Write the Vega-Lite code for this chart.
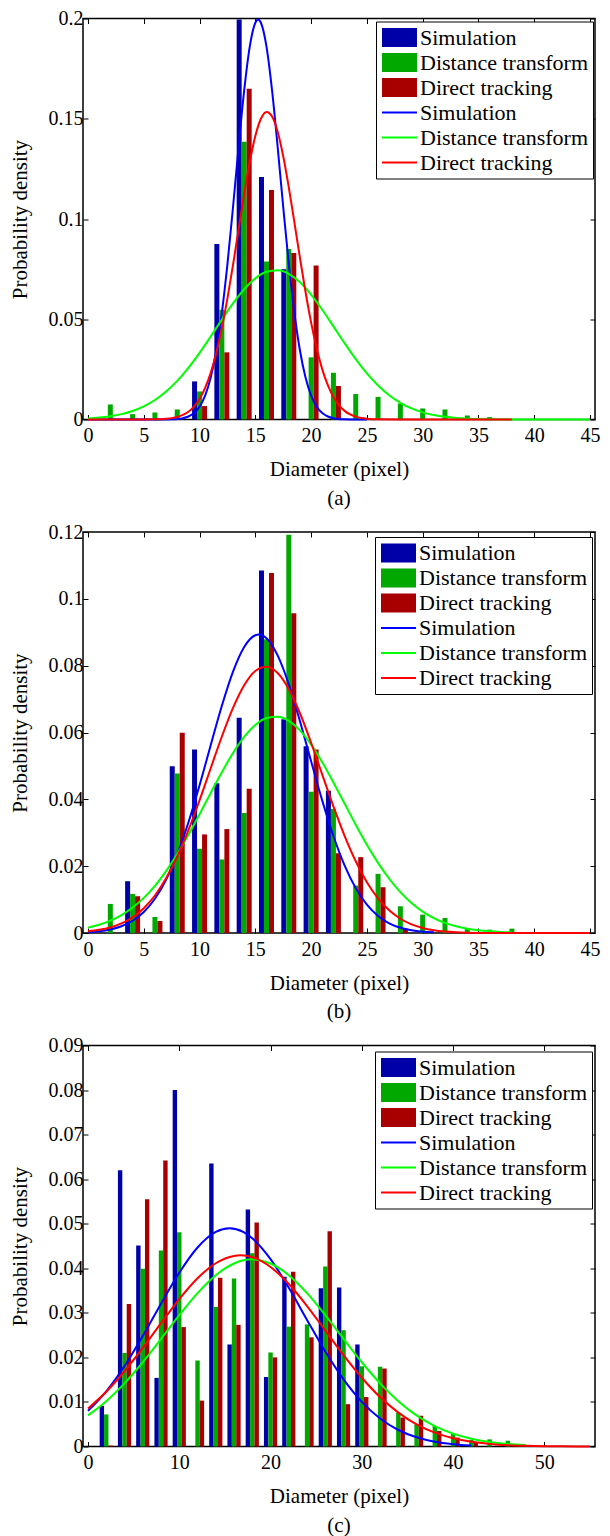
{
"$schema": "https://vega.github.io/schema/vega-lite/v6.json",
"background": "white",
"padding": {"left": 8, "top": 7.5, "right": 0, "bottom": 0},
"spacing": 11.5,
"config": {
 "font": "Liberation Serif",
 "view": {"stroke": "black", "strokeWidth": 1.5},
 "style": {"guide-label": {"font": "Liberation Serif", "fill": "black"}, "guide-title": {"font": "Liberation Serif", "fontWeight": "normal", "fill": "black"}},
 "axis": {"labelFont": "Liberation Serif", "labelFontSize": 20, "labelColor": "black", "titleFont": "Liberation Serif", "titleFontSize": 21, "titleFontWeight": "normal", "titleColor": "black", "tickColor": "black", "tickWidth": 1, "tickSize": -5, "domain": false, "grid": false, "labelFlush": false, "labelOverlap": false},
 "legend": {"orient": "none", "title": null, "symbolSize": 400, "symbolOpacity": 1, "symbolStrokeWidth": 0, "labelOffset": 17, "rowPadding": 3, "padding": 5, "strokeColor": "black", "fillColor": "white", "labelFont": "Liberation Serif", "labelFontSize": 22, "labelColor": "black", "labelLimit": 400},
 "title": {"font": "Liberation Serif", "fontSize": 21, "fontWeight": "normal", "color": "black"}
},
"datasets": {
 "barsA": [
  {"d":10,"p":0.019,"s":"Simulation"},{"d":12,"p":0.0875,"s":"Simulation"},{"d":14,"p":0.1995,"s":"Simulation"},{"d":16,"p":0.121,"s":"Simulation"},{"d":18,"p":0.075,"s":"Simulation"},
  {"d":2,"p":0.0075,"s":"Distance transform"},{"d":4,"p":0.0027,"s":"Distance transform"},{"d":6,"p":0.0035,"s":"Distance transform"},{"d":8,"p":0.005,"s":"Distance transform"},{"d":10,"p":0.014,"s":"Distance transform"},{"d":12,"p":0.0547,"s":"Distance transform"},{"d":14,"p":0.1385,"s":"Distance transform"},{"d":16,"p":0.0788,"s":"Distance transform"},{"d":18,"p":0.085,"s":"Distance transform"},{"d":20,"p":0.031,"s":"Distance transform"},{"d":22,"p":0.0233,"s":"Distance transform"},{"d":24,"p":0.0127,"s":"Distance transform"},{"d":26,"p":0.0113,"s":"Distance transform"},{"d":28,"p":0.008,"s":"Distance transform"},{"d":30,"p":0.0055,"s":"Distance transform"},{"d":32,"p":0.005,"s":"Distance transform"},{"d":34,"p":0.002,"s":"Distance transform"},{"d":36,"p":0.0012,"s":"Distance transform"},
  {"d":10,"p":0.0067,"s":"Direct tracking"},{"d":12,"p":0.0335,"s":"Direct tracking"},{"d":14,"p":0.165,"s":"Direct tracking"},{"d":16,"p":0.1145,"s":"Direct tracking"},{"d":18,"p":0.083,"s":"Direct tracking"},{"d":20,"p":0.0768,"s":"Direct tracking"},{"d":22,"p":0.0167,"s":"Direct tracking"}
 ],
 "curvesA": [
  {"d":0,"p":0,"s":"Simulation "},{"d":6,"p":0.00001,"s":"Simulation "},{"d":7,"p":0.00004,"s":"Simulation "},{"d":7.5,"p":0.00011,"s":"Simulation "},{"d":8,"p":0.00028,"s":"Simulation "},{"d":8.5,"p":0.00067,"s":"Simulation "},{"d":9,"p":0.00151,"s":"Simulation "},{"d":9.5,"p":0.0032,"s":"Simulation "},{"d":10,"p":0.00636,"s":"Simulation "},{"d":10.5,"p":0.0119,"s":"Simulation "},{"d":11,"p":0.0209,"s":"Simulation "},{"d":11.5,"p":0.0344,"s":"Simulation "},{"d":12,"p":0.0533,"s":"Simulation "},{"d":12.5,"p":0.0775,"s":"Simulation "},{"d":13,"p":0.106,"s":"Simulation "},{"d":13.5,"p":0.136,"s":"Simulation "},{"d":14,"p":0.1641,"s":"Simulation "},{"d":14.5,"p":0.186,"s":"Simulation "},{"d":15,"p":0.1979,"s":"Simulation "},{"d":15.25,"p":0.1995,"s":"Simulation "},{"d":15.5,"p":0.1979,"s":"Simulation "},{"d":16,"p":0.186,"s":"Simulation "},{"d":16.5,"p":0.1641,"s":"Simulation "},{"d":17,"p":0.136,"s":"Simulation "},{"d":17.5,"p":0.106,"s":"Simulation "},{"d":18,"p":0.0775,"s":"Simulation "},{"d":18.5,"p":0.0533,"s":"Simulation "},{"d":19,"p":0.0344,"s":"Simulation "},{"d":19.5,"p":0.0209,"s":"Simulation "},{"d":20,"p":0.0119,"s":"Simulation "},{"d":20.5,"p":0.00636,"s":"Simulation "},{"d":21,"p":0.0032,"s":"Simulation "},{"d":21.5,"p":0.00151,"s":"Simulation "},{"d":22,"p":0.00067,"s":"Simulation "},{"d":22.5,"p":0.00028,"s":"Simulation "},{"d":23,"p":0.00011,"s":"Simulation "},{"d":23.5,"p":0.00004,"s":"Simulation "},{"d":25,"p":0,"s":"Simulation "},
  {"d":0,"p":0.00054,"s":"Distance transform "},{"d":1,"p":0.00095,"s":"Distance transform "},{"d":2,"p":0.00162,"s":"Distance transform "},{"d":3,"p":0.00268,"s":"Distance transform "},{"d":4,"p":0.00426,"s":"Distance transform "},{"d":5,"p":0.00655,"s":"Distance transform "},{"d":6,"p":0.00971,"s":"Distance transform "},{"d":7,"p":0.01392,"s":"Distance transform "},{"d":8,"p":0.01926,"s":"Distance transform "},{"d":9,"p":0.02574,"s":"Distance transform "},{"d":10,"p":0.03321,"s":"Distance transform "},{"d":11,"p":0.0414,"s":"Distance transform "},{"d":12,"p":0.04982,"s":"Distance transform "},{"d":13,"p":0.05789,"s":"Distance transform "},{"d":14,"p":0.06496,"s":"Distance transform "},{"d":15,"p":0.0704,"s":"Distance transform "},{"d":16,"p":0.07367,"s":"Distance transform "},{"d":17,"p":0.07445,"s":"Distance transform "},{"d":18,"p":0.07265,"s":"Distance transform "},{"d":19,"p":0.06846,"s":"Distance transform "},{"d":20,"p":0.0623,"s":"Distance transform "},{"d":21,"p":0.05474,"s":"Distance transform "},{"d":22,"p":0.04645,"s":"Distance transform "},{"d":23,"p":0.03807,"s":"Distance transform "},{"d":24,"p":0.03012,"s":"Distance transform "},{"d":25,"p":0.02301,"s":"Distance transform "},{"d":26,"p":0.01699,"s":"Distance transform "},{"d":27,"p":0.0121,"s":"Distance transform "},{"d":28,"p":0.00833,"s":"Distance transform "},{"d":29,"p":0.00553,"s":"Distance transform "},{"d":30,"p":0.00355,"s":"Distance transform "},{"d":31,"p":0.0022,"s":"Distance transform "},{"d":32,"p":0.00132,"s":"Distance transform "},{"d":33,"p":0.00076,"s":"Distance transform "},{"d":34,"p":0.00042,"s":"Distance transform "},{"d":35,"p":0.00023,"s":"Distance transform "},{"d":36,"p":0.00012,"s":"Distance transform "},{"d":38,"p":0.00003,"s":"Distance transform "},{"d":45,"p":0,"s":"Distance transform "},
  {"d":0,"p":0,"s":"Direct tracking "},{"d":5,"p":0.00001,"s":"Direct tracking "},{"d":6,"p":0.000087,"s":"Direct tracking "},{"d":6.5,"p":0.00018,"s":"Direct tracking "},{"d":7,"p":0.00036,"s":"Direct tracking "},{"d":7.5,"p":0.00069,"s":"Direct tracking "},{"d":8,"p":0.00127,"s":"Direct tracking "},{"d":8.5,"p":0.00226,"s":"Direct tracking "},{"d":9,"p":0.00388,"s":"Direct tracking "},{"d":9.5,"p":0.00642,"s":"Direct tracking "},{"d":10,"p":0.01023,"s":"Direct tracking "},{"d":10.5,"p":0.01572,"s":"Direct tracking "},{"d":11,"p":0.02327,"s":"Direct tracking "},{"d":11.5,"p":0.03318,"s":"Direct tracking "},{"d":12,"p":0.04561,"s":"Direct tracking "},{"d":12.5,"p":0.06039,"s":"Direct tracking "},{"d":13,"p":0.07708,"s":"Direct tracking "},{"d":13.5,"p":0.09483,"s":"Direct tracking "},{"d":14,"p":0.1124,"s":"Direct tracking "},{"d":14.5,"p":0.1284,"s":"Direct tracking "},{"d":15,"p":0.1414,"s":"Direct tracking "},{"d":15.5,"p":0.15,"s":"Direct tracking "},{"d":16,"p":0.1534,"s":"Direct tracking "},{"d":16.5,"p":0.1511,"s":"Direct tracking "},{"d":17,"p":0.1435,"s":"Direct tracking "},{"d":17.5,"p":0.1313,"s":"Direct tracking "},{"d":18,"p":0.1158,"s":"Direct tracking "},{"d":18.5,"p":0.0984,"s":"Direct tracking "},{"d":19,"p":0.0806,"s":"Direct tracking "},{"d":19.5,"p":0.0636,"s":"Direct tracking "},{"d":20,"p":0.0484,"s":"Direct tracking "},{"d":20.5,"p":0.0355,"s":"Direct tracking "},{"d":21,"p":0.025,"s":"Direct tracking "},{"d":21.5,"p":0.0171,"s":"Direct tracking "},{"d":22,"p":0.0112,"s":"Direct tracking "},{"d":22.5,"p":0.00707,"s":"Direct tracking "},{"d":23,"p":0.00431,"s":"Direct tracking "},{"d":23.5,"p":0.00253,"s":"Direct tracking "},{"d":24,"p":0.00143,"s":"Direct tracking "},{"d":24.5,"p":0.00078,"s":"Direct tracking "},{"d":25,"p":0.00041,"s":"Direct tracking "},{"d":26,"p":0.0001,"s":"Direct tracking "},{"d":28,"p":0,"s":"Direct tracking "},{"d":38,"p":0,"s":"Direct tracking "}
 ],
 "barsB": [
  {"d":4,"p":0.0155,"s":"Simulation"},{"d":8,"p":0.0499,"s":"Simulation"},{"d":10,"p":0.0549,"s":"Simulation"},{"d":12,"p":0.0448,"s":"Simulation"},{"d":14,"p":0.0644,"s":"Simulation"},{"d":16,"p":0.1085,"s":"Simulation"},{"d":18,"p":0.064,"s":"Simulation"},{"d":20,"p":0.0559,"s":"Simulation"},{"d":22,"p":0.0426,"s":"Simulation"},
  {"d":2,"p":0.0087,"s":"Distance transform"},{"d":4,"p":0.0117,"s":"Distance transform"},{"d":6,"p":0.0048,"s":"Distance transform"},{"d":8,"p":0.0477,"s":"Distance transform"},{"d":10,"p":0.0252,"s":"Distance transform"},{"d":12,"p":0.022,"s":"Distance transform"},{"d":14,"p":0.0359,"s":"Distance transform"},{"d":16,"p":0.0879,"s":"Distance transform"},{"d":18,"p":0.1192,"s":"Distance transform"},{"d":20,"p":0.0423,"s":"Distance transform"},{"d":22,"p":0.0371,"s":"Distance transform"},{"d":24,"p":0.0142,"s":"Distance transform"},{"d":26,"p":0.0177,"s":"Distance transform"},{"d":28,"p":0.008,"s":"Distance transform"},{"d":30,"p":0.0055,"s":"Distance transform"},{"d":32,"p":0.0045,"s":"Distance transform"},{"d":34,"p":0.0015,"s":"Distance transform"},{"d":36,"p":0.001,"s":"Distance transform"},{"d":38,"p":0.0013,"s":"Distance transform"},
  {"d":4,"p":0.011,"s":"Direct tracking"},{"d":6,"p":0.0036,"s":"Direct tracking"},{"d":8,"p":0.0599,"s":"Direct tracking"},{"d":10,"p":0.0295,"s":"Direct tracking"},{"d":12,"p":0.0311,"s":"Direct tracking"},{"d":14,"p":0.0432,"s":"Direct tracking"},{"d":16,"p":0.1077,"s":"Direct tracking"},{"d":18,"p":0.0957,"s":"Direct tracking"},{"d":20,"p":0.0549,"s":"Direct tracking"},{"d":22,"p":0.0239,"s":"Direct tracking"},{"d":24,"p":0.0227,"s":"Direct tracking"},{"d":26,"p":0.0137,"s":"Direct tracking"},{"d":28,"p":0.0013,"s":"Direct tracking"}
 ],
 "curvesB": [
  {"d":0,"p":0.000255,"s":"Simulation "},{"d":1,"p":0.000535,"s":"Simulation "},{"d":2,"p":0.00107,"s":"Simulation "},{"d":3,"p":0.00203,"s":"Simulation "},{"d":4,"p":0.00366,"s":"Simulation "},{"d":5,"p":0.00628,"s":"Simulation "},{"d":6,"p":0.01025,"s":"Simulation "},{"d":7,"p":0.01593,"s":"Simulation "},{"d":8,"p":0.02353,"s":"Simulation "},{"d":9,"p":0.03308,"s":"Simulation "},{"d":10,"p":0.04421,"s":"Simulation "},{"d":11,"p":0.05621,"s":"Simulation "},{"d":12,"p":0.068,"s":"Simulation "},{"d":13,"p":0.07823,"s":"Simulation "},{"d":14,"p":0.0856,"s":"Simulation "},{"d":15,"p":0.0891,"s":"Simulation "},{"d":15.3,"p":0.0893,"s":"Simulation "},{"d":16,"p":0.08821,"s":"Simulation "},{"d":17,"p":0.08307,"s":"Simulation "},{"d":18,"p":0.07441,"s":"Simulation "},{"d":19,"p":0.06339,"s":"Simulation "},{"d":20,"p":0.05137,"s":"Simulation "},{"d":21,"p":0.03961,"s":"Simulation "},{"d":22,"p":0.02904,"s":"Simulation "},{"d":23,"p":0.02025,"s":"Simulation "},{"d":24,"p":0.01343,"s":"Simulation "},{"d":25,"p":0.00848,"s":"Simulation "},{"d":26,"p":0.00509,"s":"Simulation "},{"d":27,"p":0.00291,"s":"Simulation "},{"d":28,"p":0.00158,"s":"Simulation "},{"d":29,"p":0.00081,"s":"Simulation "},{"d":30,"p":0.0004,"s":"Simulation "},{"d":31,"p":0.00019,"s":"Simulation "},
  {"d":0,"p":0.00161,"s":"Distance transform "},{"d":1,"p":0.00247,"s":"Distance transform "},{"d":2,"p":0.00369,"s":"Distance transform "},{"d":3,"p":0.00537,"s":"Distance transform "},{"d":4,"p":0.00761,"s":"Distance transform "},{"d":5,"p":0.01051,"s":"Distance transform "},{"d":6,"p":0.01413,"s":"Distance transform "},{"d":7,"p":0.01852,"s":"Distance transform "},{"d":8,"p":0.02363,"s":"Distance transform "},{"d":9,"p":0.02937,"s":"Distance transform "},{"d":10,"p":0.03556,"s":"Distance transform "},{"d":11,"p":0.04192,"s":"Distance transform "},{"d":12,"p":0.04813,"s":"Distance transform "},{"d":13,"p":0.05384,"s":"Distance transform "},{"d":14,"p":0.05866,"s":"Distance transform "},{"d":15,"p":0.06224,"s":"Distance transform "},{"d":16,"p":0.06432,"s":"Distance transform "},{"d":17,"p":0.06475,"s":"Distance transform "},{"d":18,"p":0.06349,"s":"Distance transform "},{"d":19,"p":0.06062,"s":"Distance transform "},{"d":20,"p":0.05638,"s":"Distance transform "},{"d":21,"p":0.05108,"s":"Distance transform "},{"d":22,"p":0.04506,"s":"Distance transform "},{"d":23,"p":0.03873,"s":"Distance transform "},{"d":24,"p":0.03242,"s":"Distance transform "},{"d":25,"p":0.02643,"s":"Distance transform "},{"d":26,"p":0.02099,"s":"Distance transform "},{"d":27,"p":0.01623,"s":"Distance transform "},{"d":28,"p":0.01223,"s":"Distance transform "},{"d":29,"p":0.00897,"s":"Distance transform "},{"d":30,"p":0.00641,"s":"Distance transform "},{"d":31,"p":0.00446,"s":"Distance transform "},{"d":32,"p":0.00302,"s":"Distance transform "},{"d":33,"p":0.002,"s":"Distance transform "},{"d":34,"p":0.00128,"s":"Distance transform "},{"d":35,"p":0.0008,"s":"Distance transform "},{"d":36,"p":0.00049,"s":"Distance transform "},{"d":37,"p":0.00029,"s":"Distance transform "},{"d":38,"p":0.00017,"s":"Distance transform "},
  {"d":0,"p":0.000508,"s":"Direct tracking "},{"d":1,"p":0.00094,"s":"Direct tracking "},{"d":2,"p":0.00167,"s":"Direct tracking "},{"d":3,"p":0.00286,"s":"Direct tracking "},{"d":4,"p":0.00469,"s":"Direct tracking "},{"d":5,"p":0.00741,"s":"Direct tracking "},{"d":6,"p":0.01122,"s":"Direct tracking "},{"d":7,"p":0.01635,"s":"Direct tracking "},{"d":8,"p":0.02288,"s":"Direct tracking "},{"d":9,"p":0.03076,"s":"Direct tracking "},{"d":10,"p":0.03973,"s":"Direct tracking "},{"d":11,"p":0.04931,"s":"Direct tracking "},{"d":12,"p":0.0588,"s":"Direct tracking "},{"d":13,"p":0.06736,"s":"Direct tracking "},{"d":14,"p":0.07414,"s":"Direct tracking "},{"d":15,"p":0.07842,"s":"Direct tracking "},{"d":16,"p":0.07968,"s":"Direct tracking "},{"d":17,"p":0.0778,"s":"Direct tracking "},{"d":18,"p":0.07297,"s":"Direct tracking "},{"d":19,"p":0.06576,"s":"Direct tracking "},{"d":20,"p":0.05694,"s":"Direct tracking "},{"d":21,"p":0.04737,"s":"Direct tracking "},{"d":22,"p":0.03787,"s":"Direct tracking "},{"d":23,"p":0.02908,"s":"Direct tracking "},{"d":24,"p":0.02146,"s":"Direct tracking "},{"d":25,"p":0.01521,"s":"Direct tracking "},{"d":26,"p":0.01036,"s":"Direct tracking "},{"d":27,"p":0.00678,"s":"Direct tracking "},{"d":28,"p":0.00426,"s":"Direct tracking "},{"d":29,"p":0.00258,"s":"Direct tracking "},{"d":30,"p":0.0015,"s":"Direct tracking "},{"d":31,"p":0.00083,"s":"Direct tracking "},{"d":32,"p":0.00045,"s":"Direct tracking "},{"d":33,"p":0.00023,"s":"Direct tracking "},{"d":34,"p":0.00011,"s":"Direct tracking "},{"d":36,"p":0.00002,"s":"Direct tracking "},{"d":45,"p":0,"s":"Direct tracking "}
 ],
 "barsC": [
  {"d":2,"p":0.0091,"s":"Simulation"},{"d":4,"p":0.062,"s":"Simulation"},{"d":6,"p":0.0451,"s":"Simulation"},{"d":8,"p":0.0154,"s":"Simulation"},{"d":10,"p":0.08,"s":"Simulation"},{"d":14,"p":0.0635,"s":"Simulation"},{"d":16,"p":0.0229,"s":"Simulation"},{"d":18,"p":0.0532,"s":"Simulation"},{"d":20,"p":0.0156,"s":"Simulation"},{"d":22,"p":0.0381,"s":"Simulation"},{"d":26,"p":0.0355,"s":"Simulation"},{"d":28,"p":0.0357,"s":"Simulation"},{"d":30,"p":0.0229,"s":"Simulation"},
  {"d":2,"p":0.0072,"s":"Distance transform"},{"d":4,"p":0.021,"s":"Distance transform"},{"d":6,"p":0.0399,"s":"Distance transform"},{"d":8,"p":0.044,"s":"Distance transform"},{"d":10,"p":0.0481,"s":"Distance transform"},{"d":12,"p":0.0193,"s":"Distance transform"},{"d":14,"p":0.0313,"s":"Distance transform"},{"d":16,"p":0.0377,"s":"Distance transform"},{"d":18,"p":0.0434,"s":"Distance transform"},{"d":20,"p":0.0211,"s":"Distance transform"},{"d":22,"p":0.0269,"s":"Distance transform"},{"d":24,"p":0.0274,"s":"Distance transform"},{"d":26,"p":0.0404,"s":"Distance transform"},{"d":28,"p":0.0261,"s":"Distance transform"},{"d":30,"p":0.018,"s":"Distance transform"},{"d":32,"p":0.0179,"s":"Distance transform"},{"d":34,"p":0.0076,"s":"Distance transform"},{"d":36,"p":0.005,"s":"Distance transform"},{"d":38,"p":0.0046,"s":"Distance transform"},{"d":40,"p":0.0028,"s":"Distance transform"},{"d":42,"p":0.0015,"s":"Distance transform"},{"d":44,"p":0.0016,"s":"Distance transform"},{"d":46,"p":0.0013,"s":"Distance transform"},{"d":48,"p":0.0003,"s":"Distance transform"},
  {"d":2,"p":0.0002,"s":"Direct tracking"},{"d":4,"p":0.032,"s":"Direct tracking"},{"d":6,"p":0.0555,"s":"Direct tracking"},{"d":8,"p":0.0642,"s":"Direct tracking"},{"d":10,"p":0.0268,"s":"Direct tracking"},{"d":12,"p":0.0103,"s":"Direct tracking"},{"d":14,"p":0.0379,"s":"Direct tracking"},{"d":16,"p":0.0273,"s":"Direct tracking"},{"d":18,"p":0.0503,"s":"Direct tracking"},{"d":20,"p":0.02,"s":"Direct tracking"},{"d":22,"p":0.0392,"s":"Direct tracking"},{"d":24,"p":0.0245,"s":"Direct tracking"},{"d":26,"p":0.0483,"s":"Direct tracking"},{"d":28,"p":0.0095,"s":"Direct tracking"},{"d":30,"p":0.0111,"s":"Direct tracking"},{"d":32,"p":0.0175,"s":"Direct tracking"},{"d":34,"p":0.0065,"s":"Direct tracking"},{"d":36,"p":0.0069,"s":"Direct tracking"},{"d":38,"p":0.0035,"s":"Direct tracking"},{"d":40,"p":0.002,"s":"Direct tracking"},{"d":42,"p":0.0009,"s":"Direct tracking"}
 ],
 "curvesC": [
  {"d":0,"p":0.00799,"s":"Simulation "},{"d":2,"p":0.01238,"s":"Simulation "},{"d":4,"p":0.01806,"s":"Simulation "},{"d":6,"p":0.0248,"s":"Simulation "},{"d":8,"p":0.03205,"s":"Simulation "},{"d":10,"p":0.039,"s":"Simulation "},{"d":12,"p":0.04467,"s":"Simulation "},{"d":14,"p":0.04818,"s":"Simulation "},{"d":15.5,"p":0.049,"s":"Simulation "},{"d":17,"p":0.04818,"s":"Simulation "},{"d":18,"p":0.04674,"s":"Simulation "},{"d":20,"p":0.04206,"s":"Simulation "},{"d":22,"p":0.03562,"s":"Simulation "},{"d":24,"p":0.02841,"s":"Simulation "},{"d":26,"p":0.02132,"s":"Simulation "},{"d":28,"p":0.01507,"s":"Simulation "},{"d":30,"p":0.01003,"s":"Simulation "},{"d":32,"p":0.00628,"s":"Simulation "},{"d":34,"p":0.0037,"s":"Simulation "},{"d":36,"p":0.00206,"s":"Simulation "},{"d":38,"p":0.00107,"s":"Simulation "},{"d":40,"p":0.00053,"s":"Simulation "},{"d":42,"p":0.00024,"s":"Simulation "},
  {"d":0,"p":0.00698,"s":"Distance transform "},{"d":2,"p":0.01017,"s":"Distance transform "},{"d":4,"p":0.01418,"s":"Distance transform "},{"d":6,"p":0.01891,"s":"Distance transform "},{"d":8,"p":0.02414,"s":"Distance transform "},{"d":10,"p":0.02946,"s":"Distance transform "},{"d":12,"p":0.03441,"s":"Distance transform "},{"d":14,"p":0.03844,"s":"Distance transform "},{"d":16,"p":0.04108,"s":"Distance transform "},{"d":18,"p":0.042,"s":"Distance transform "},{"d":20,"p":0.04108,"s":"Distance transform "},{"d":22,"p":0.03844,"s":"Distance transform "},{"d":24,"p":0.03441,"s":"Distance transform "},{"d":26,"p":0.02946,"s":"Distance transform "},{"d":28,"p":0.02414,"s":"Distance transform "},{"d":30,"p":0.01891,"s":"Distance transform "},{"d":32,"p":0.01418,"s":"Distance transform "},{"d":34,"p":0.01017,"s":"Distance transform "},{"d":36,"p":0.00698,"s":"Distance transform "},{"d":38,"p":0.00458,"s":"Distance transform "},{"d":40,"p":0.00288,"s":"Distance transform "},{"d":42,"p":0.00173,"s":"Distance transform "},{"d":44,"p":0.00099,"s":"Distance transform "},{"d":46,"p":0.00055,"s":"Distance transform "},{"d":48,"p":0.00029,"s":"Distance transform "},
  {"d":0,"p":0.00855,"s":"Direct tracking "},{"d":2,"p":0.0123,"s":"Direct tracking "},{"d":4,"p":0.01689,"s":"Direct tracking "},{"d":6,"p":0.02213,"s":"Direct tracking "},{"d":8,"p":0.0277,"s":"Direct tracking "},{"d":10,"p":0.03309,"s":"Direct tracking "},{"d":12,"p":0.03776,"s":"Direct tracking "},{"d":14,"p":0.04113,"s":"Direct tracking "},{"d":16,"p":0.04278,"s":"Direct tracking "},{"d":16.7,"p":0.0429,"s":"Direct tracking "},{"d":18,"p":0.04248,"s":"Direct tracking "},{"d":20,"p":0.04028,"s":"Direct tracking "},{"d":22,"p":0.03647,"s":"Direct tracking "},{"d":24,"p":0.03153,"s":"Direct tracking "},{"d":26,"p":0.02602,"s":"Direct tracking "},{"d":28,"p":0.02051,"s":"Direct tracking "},{"d":30,"p":0.01543,"s":"Direct tracking "},{"d":32,"p":0.01109,"s":"Direct tracking "},{"d":34,"p":0.00761,"s":"Direct tracking "},{"d":36,"p":0.00498,"s":"Direct tracking "},{"d":38,"p":0.00311,"s":"Direct tracking "},{"d":40,"p":0.00186,"s":"Direct tracking "},{"d":42,"p":0.00106,"s":"Direct tracking "},{"d":44,"p":0.00058,"s":"Direct tracking "},{"d":46,"p":0.0003,"s":"Direct tracking "},{"d":48,"p":0.00015,"s":"Direct tracking "},{"d":50,"p":0.00007,"s":"Direct tracking "},{"d":52,"p":0.00003,"s":"Direct tracking "},{"d":55,"p":0.00001,"s":"Direct tracking "}
 ]
},
"resolve": {"scale": {"x": "independent", "y": "independent", "color": "independent", "shape": "independent"}, "legend": {"color": "independent", "shape": "independent"}},
"vconcat": [
 {
  "width": 512, "height": 401,
  "title": {"text": "(a)", "orient": "bottom", "anchor": "middle", "offset": 8, "font": "Liberation Serif", "fontSize": 21, "fontWeight": "normal", "color": "black"},
  "resolve": {"axis": {"x": "independent", "y": "independent"}},
  "layer": [
   {"data": {"name": "barsA"}, "transform": [{"filter": "datum.s == 'Simulation'"}],
    "mark": {"type": "bar", "width": 5, "xOffset": -5, "color": "#0000A8"},
    "encoding": {
     "x": {"field": "d", "type": "quantitative", "scale": {"domain": [0, 45], "nice": false, "zero": false}, "axis": {"values": [0,5,10,15,20,25,30,35,40,45], "title": "Diameter (pixel)", "labelFont": "Liberation Serif", "labelFontSize": 20, "labelColor": "black", "titleFont": "Liberation Serif", "titleFontSize": 21, "titleFontWeight": "normal", "titleColor": "black", "tickColor": "black", "tickSize": -5, "domain": false, "grid": false, "labelFlush": false, "labelOverlap": false, "labelPadding": 11, "titlePadding": 13}},
     "y": {"field": "p", "type": "quantitative", "scale": {"domain": [0, 0.2], "nice": false}, "axis": {"values": [0,0.05,0.1,0.15,0.2], "format": ".2~f", "title": "Probability density", "labelFont": "Liberation Serif", "labelFontSize": 20, "labelColor": "black", "titleFont": "Liberation Serif", "titleFontSize": 21, "titleFontWeight": "normal", "titleColor": "black", "tickColor": "black", "tickSize": -5, "domain": false, "grid": false, "labelOverlap": false, "labelPadding": 5, "titlePadding": 17.7}}
    }},
   {"data": {"name": "barsA"}, "transform": [{"filter": "datum.s == 'Distance transform'"}],
    "mark": {"type": "bar", "width": 5, "xOffset": 0, "color": "#00A800"},
    "encoding": {"x": {"field": "d", "type": "quantitative", "axis": null}, "y": {"field": "p", "type": "quantitative", "axis": null}}},
   {"data": {"name": "barsA"}, "transform": [{"filter": "datum.s == 'Direct tracking'"}],
    "mark": {"type": "bar", "width": 5, "xOffset": 5, "color": "#A80000"},
    "encoding": {"x": {"field": "d", "type": "quantitative", "axis": null}, "y": {"field": "p", "type": "quantitative", "axis": null}}},
   {"data": {"name": "curvesA"}, "transform": [{"filter": "datum.s == 'Simulation '"}],
    "mark": {"type": "line", "strokeWidth": 2, "interpolate": "monotone", "color": "#0000FF"},
    "encoding": {"x": {"field": "d", "type": "quantitative", "axis": null}, "y": {"field": "p", "type": "quantitative", "axis": null}}},
   {"data": {"name": "curvesA"}, "transform": [{"filter": "datum.s == 'Distance transform '"}],
    "mark": {"type": "line", "strokeWidth": 2, "interpolate": "monotone", "color": "#00FF00"},
    "encoding": {"x": {"field": "d", "type": "quantitative", "axis": null}, "y": {"field": "p", "type": "quantitative", "axis": null}}},
   {"data": {"name": "curvesA"}, "transform": [{"filter": "datum.s == 'Direct tracking '"}],
    "mark": {"type": "line", "strokeWidth": 2, "interpolate": "monotone", "color": "#FF0000"},
    "encoding": {"x": {"field": "d", "type": "quantitative", "axis": null}, "y": {"field": "p", "type": "quantitative", "axis": null}}},
   {"data": {"name": "curvesA"},
    "mark": {"type": "point", "opacity": 0, "filled": true},
    "encoding": {
     "x": {"field": "d", "type": "quantitative", "axis": {"orient": "top", "values": [0,5,10,15,20,25,30,35,40,45], "labels": false, "title": null, "tickColor": "black", "tickSize": -5, "domain": false, "grid": false}},
     "y": {"field": "p", "type": "quantitative", "axis": {"orient": "right", "values": [0,0.05,0.1,0.15,0.2], "labels": false, "title": null, "tickColor": "black", "tickSize": -5, "domain": false, "grid": false}},
     "color": {"field": "s", "type": "nominal", "scale": {"domain": ["Simulation","Distance transform","Direct tracking","Simulation ","Distance transform ","Direct tracking "], "range": ["#0000A8","#00A800","#A80000","#0000FF","#00FF00","#FF0000"]}, "legend": {"legendX": 293, "legendY": 3, "labelExpr": "trim(datum.label)"}},
     "shape": {"field": "s", "type": "nominal", "scale": {"domain": ["Simulation","Distance transform","Direct tracking","Simulation ","Distance transform ","Direct tracking "], "range": ["M-1,-0.95H2.5V0.95H-1Z","M-1,-0.95H2.5V0.95H-1Z","M-1,-0.95H2.5V0.95H-1Z","M-1,-0.1H2.5V0.1H-1Z","M-1,-0.1H2.5V0.1H-1Z","M-1,-0.1H2.5V0.1H-1Z"]}, "legend": {"legendX": 293, "legendY": 3, "labelExpr": "trim(datum.label)"}}
    }}
  ]
 },
 {
  "width": 512, "height": 401,
  "title": {"text": "(b)", "orient": "bottom", "anchor": "middle", "offset": 8, "font": "Liberation Serif", "fontSize": 21, "fontWeight": "normal", "color": "black"},
  "resolve": {"axis": {"x": "independent", "y": "independent"}},
  "layer": [
   {"data": {"name": "barsB"}, "transform": [{"filter": "datum.s == 'Simulation'"}],
    "mark": {"type": "bar", "width": 5, "xOffset": -5, "color": "#0000A8"},
    "encoding": {
     "x": {"field": "d", "type": "quantitative", "scale": {"domain": [0, 45], "nice": false, "zero": false}, "axis": {"values": [0,5,10,15,20,25,30,35,40,45], "title": "Diameter (pixel)", "labelFont": "Liberation Serif", "labelFontSize": 20, "labelColor": "black", "titleFont": "Liberation Serif", "titleFontSize": 21, "titleFontWeight": "normal", "titleColor": "black", "tickColor": "black", "tickSize": -5, "domain": false, "grid": false, "labelFlush": false, "labelOverlap": false, "labelPadding": 11, "titlePadding": 13}},
     "y": {"field": "p", "type": "quantitative", "scale": {"domain": [0, 0.12], "nice": false}, "axis": {"values": [0,0.02,0.04,0.06,0.08,0.1,0.12], "format": ".2~f", "title": "Probability density", "labelFont": "Liberation Serif", "labelFontSize": 20, "labelColor": "black", "titleFont": "Liberation Serif", "titleFontSize": 21, "titleFontWeight": "normal", "titleColor": "black", "tickColor": "black", "tickSize": -5, "domain": false, "grid": false, "labelOverlap": false, "labelPadding": 5, "titlePadding": 17.7}}
    }},
   {"data": {"name": "barsB"}, "transform": [{"filter": "datum.s == 'Distance transform'"}],
    "mark": {"type": "bar", "width": 5, "xOffset": 0, "color": "#00A800"},
    "encoding": {"x": {"field": "d", "type": "quantitative", "axis": null}, "y": {"field": "p", "type": "quantitative", "axis": null}}},
   {"data": {"name": "barsB"}, "transform": [{"filter": "datum.s == 'Direct tracking'"}],
    "mark": {"type": "bar", "width": 5, "xOffset": 5, "color": "#A80000"},
    "encoding": {"x": {"field": "d", "type": "quantitative", "axis": null}, "y": {"field": "p", "type": "quantitative", "axis": null}}},
   {"data": {"name": "curvesB"}, "transform": [{"filter": "datum.s == 'Simulation '"}],
    "mark": {"type": "line", "strokeWidth": 2, "interpolate": "monotone", "color": "#0000FF"},
    "encoding": {"x": {"field": "d", "type": "quantitative", "axis": null}, "y": {"field": "p", "type": "quantitative", "axis": null}}},
   {"data": {"name": "curvesB"}, "transform": [{"filter": "datum.s == 'Distance transform '"}],
    "mark": {"type": "line", "strokeWidth": 2, "interpolate": "monotone", "color": "#00FF00"},
    "encoding": {"x": {"field": "d", "type": "quantitative", "axis": null}, "y": {"field": "p", "type": "quantitative", "axis": null}}},
   {"data": {"name": "curvesB"}, "transform": [{"filter": "datum.s == 'Direct tracking '"}],
    "mark": {"type": "line", "strokeWidth": 2, "interpolate": "monotone", "color": "#FF0000"},
    "encoding": {"x": {"field": "d", "type": "quantitative", "axis": null}, "y": {"field": "p", "type": "quantitative", "axis": null}}},
   {"data": {"name": "curvesB"},
    "mark": {"type": "point", "opacity": 0, "filled": true},
    "encoding": {
     "x": {"field": "d", "type": "quantitative", "axis": {"orient": "top", "values": [0,5,10,15,20,25,30,35,40,45], "labels": false, "title": null, "tickColor": "black", "tickSize": -5, "domain": false, "grid": false}},
     "y": {"field": "p", "type": "quantitative", "axis": {"orient": "right", "values": [0,0.02,0.04,0.06,0.08,0.1,0.12], "labels": false, "title": null, "tickColor": "black", "tickSize": -5, "domain": false, "grid": false}},
     "color": {"field": "s", "type": "nominal", "scale": {"domain": ["Simulation","Distance transform","Direct tracking","Simulation ","Distance transform ","Direct tracking "], "range": ["#0000A8","#00A800","#A80000","#0000FF","#00FF00","#FF0000"]}, "legend": {"legendX": 292, "legendY": 5, "labelExpr": "trim(datum.label)"}},
     "shape": {"field": "s", "type": "nominal", "scale": {"domain": ["Simulation","Distance transform","Direct tracking","Simulation ","Distance transform ","Direct tracking "], "range": ["M-1,-0.95H2.5V0.95H-1Z","M-1,-0.95H2.5V0.95H-1Z","M-1,-0.95H2.5V0.95H-1Z","M-1,-0.1H2.5V0.1H-1Z","M-1,-0.1H2.5V0.1H-1Z","M-1,-0.1H2.5V0.1H-1Z"]}, "legend": {"legendX": 292, "legendY": 5, "labelExpr": "trim(datum.label)"}}
    }}
  ]
 },
 {
  "width": 512, "height": 401,
  "title": {"text": "(c)", "orient": "bottom", "anchor": "middle", "offset": 8, "font": "Liberation Serif", "fontSize": 21, "fontWeight": "normal", "color": "black"},
  "resolve": {"axis": {"x": "independent", "y": "independent"}},
  "layer": [
   {"data": {"name": "barsC"}, "transform": [{"filter": "datum.s == 'Simulation'"}],
    "mark": {"type": "bar", "width": 4.4, "xOffset": -4.4, "color": "#0000A8"},
    "encoding": {
     "x": {"field": "d", "type": "quantitative", "scale": {"domain": [0, 55], "nice": false, "zero": false}, "axis": {"values": [0,10,20,30,40,50], "title": "Diameter (pixel)", "labelFont": "Liberation Serif", "labelFontSize": 20, "labelColor": "black", "titleFont": "Liberation Serif", "titleFontSize": 21, "titleFontWeight": "normal", "titleColor": "black", "tickColor": "black", "tickSize": -5, "domain": false, "grid": false, "labelFlush": false, "labelOverlap": false, "labelPadding": 11, "titlePadding": 13}},
     "y": {"field": "p", "type": "quantitative", "scale": {"domain": [0, 0.09], "nice": false}, "axis": {"values": [0,0.01,0.02,0.03,0.04,0.05,0.06,0.07,0.08,0.09], "format": ".2~f", "title": "Probability density", "labelFont": "Liberation Serif", "labelFontSize": 20, "labelColor": "black", "titleFont": "Liberation Serif", "titleFontSize": 21, "titleFontWeight": "normal", "titleColor": "black", "tickColor": "black", "tickSize": -5, "domain": false, "grid": false, "labelOverlap": false, "labelPadding": 5, "titlePadding": 17.7}}
    }},
   {"data": {"name": "barsC"}, "transform": [{"filter": "datum.s == 'Distance transform'"}],
    "mark": {"type": "bar", "width": 4.4, "xOffset": 0, "color": "#00A800"},
    "encoding": {"x": {"field": "d", "type": "quantitative", "axis": null}, "y": {"field": "p", "type": "quantitative", "axis": null}}},
   {"data": {"name": "barsC"}, "transform": [{"filter": "datum.s == 'Direct tracking'"}],
    "mark": {"type": "bar", "width": 4.4, "xOffset": 4.4, "color": "#A80000"},
    "encoding": {"x": {"field": "d", "type": "quantitative", "axis": null}, "y": {"field": "p", "type": "quantitative", "axis": null}}},
   {"data": {"name": "curvesC"}, "transform": [{"filter": "datum.s == 'Simulation '"}],
    "mark": {"type": "line", "strokeWidth": 2, "interpolate": "monotone", "color": "#0000FF"},
    "encoding": {"x": {"field": "d", "type": "quantitative", "axis": null}, "y": {"field": "p", "type": "quantitative", "axis": null}}},
   {"data": {"name": "curvesC"}, "transform": [{"filter": "datum.s == 'Distance transform '"}],
    "mark": {"type": "line", "strokeWidth": 2, "interpolate": "monotone", "color": "#00FF00"},
    "encoding": {"x": {"field": "d", "type": "quantitative", "axis": null}, "y": {"field": "p", "type": "quantitative", "axis": null}}},
   {"data": {"name": "curvesC"}, "transform": [{"filter": "datum.s == 'Direct tracking '"}],
    "mark": {"type": "line", "strokeWidth": 2, "interpolate": "monotone", "color": "#FF0000"},
    "encoding": {"x": {"field": "d", "type": "quantitative", "axis": null}, "y": {"field": "p", "type": "quantitative", "axis": null}}},
   {"data": {"name": "curvesC"},
    "mark": {"type": "point", "opacity": 0, "filled": true},
    "encoding": {
     "x": {"field": "d", "type": "quantitative", "axis": {"orient": "top", "values": [0,10,20,30,40,50], "labels": false, "title": null, "tickColor": "black", "tickSize": -5, "domain": false, "grid": false}},
     "y": {"field": "p", "type": "quantitative", "axis": {"orient": "right", "values": [0,0.01,0.02,0.03,0.04,0.05,0.06,0.07,0.08,0.09], "labels": false, "title": null, "tickColor": "black", "tickSize": -5, "domain": false, "grid": false}},
     "color": {"field": "s", "type": "nominal", "scale": {"domain": ["Simulation","Distance transform","Direct tracking","Simulation ","Distance transform ","Direct tracking "], "range": ["#0000A8","#00A800","#A80000","#0000FF","#00FF00","#FF0000"]}, "legend": {"legendX": 292, "legendY": 6, "labelExpr": "trim(datum.label)"}},
     "shape": {"field": "s", "type": "nominal", "scale": {"domain": ["Simulation","Distance transform","Direct tracking","Simulation ","Distance transform ","Direct tracking "], "range": ["M-1,-0.95H2.5V0.95H-1Z","M-1,-0.95H2.5V0.95H-1Z","M-1,-0.95H2.5V0.95H-1Z","M-1,-0.1H2.5V0.1H-1Z","M-1,-0.1H2.5V0.1H-1Z","M-1,-0.1H2.5V0.1H-1Z"]}, "legend": {"legendX": 292, "legendY": 6, "labelExpr": "trim(datum.label)"}}
    }}
  ]
 }
]
}
